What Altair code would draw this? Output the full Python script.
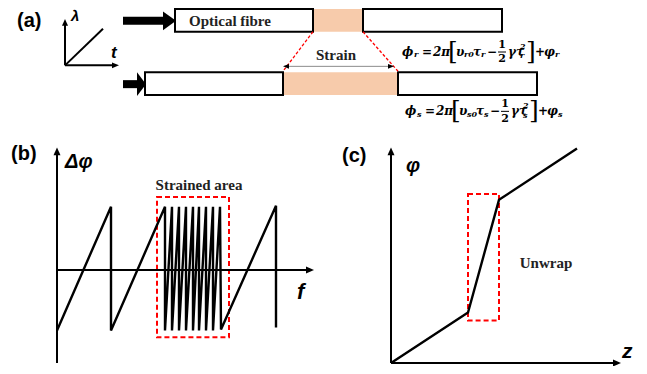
import altair as alt
import pandas as pd

# ---------------- data (picture pixel coordinates) ----------------
# fibre boxes: x1, x2, y1, y2
fibre_x1 = [175, 363, 145, 398]
fibre_x2 = [313, 502, 283, 537]
fibre_y1 = [5, 5, 69, 69]
fibre_y2 = [28, 28, 92, 92]

strain_x1 = [313, 283]
strain_x2 = [363, 398]
strain_y1 = [5, 69]
strain_y2 = [28, 92]

# red dashed boxes
red_x1 = [157, 468]
red_x2 = [229, 499]
red_y1 = [195, 192]
red_y2 = [337, 320]

# red dashed connector lines
conn_x1 = [313, 363]
conn_y1 = [28, 28]
conn_x2 = [283, 398]
conn_y2 = [68, 68]

# black axis lines
ax_x1 = [65, 65, 65, 57, 57, 391, 391]
ax_y1 = [62, 62, 62, 363, 269, 363, 363]
ax_x2 = [65, 113, 103, 57, 307, 391, 614]
ax_y2 = [21, 62, 25, 151, 269, 151, 363]

# thick input arrows (shafts)
shaft_x1 = [123, 123]
shaft_x2 = [165, 139]
shaft_y = [17, 81]

# strain double arrow
strain_arrow_x1 = [289]
strain_arrow_x2 = [388]
strain_arrow_y = [63]

# horizontal triangles (arrow heads): base x, tip x, centre y, half height
htri_base = [163, 137, 289, 388, 112, 306, 613]
htri_tip = [176, 146, 283, 394, 119, 314, 621]
htri_yc = [17, 81, 63, 63, 62, 269, 363]
htri_h = [9.5, 12, 2.5, 2.5, 3, 3.5, 3.5]

# vertical triangles: base y, tip y, centre x, half width
vtri_base = [22, 153, 153]
vtri_tip = [15, 145, 145]
vtri_xc = [65, 57, 391]
vtri_w = [3, 3.5, 3.5]

# (b) wrapped phase sawtooth
saw_x = [57, 111, 111, 165, 165, 172, 172, 179, 179, 186, 186, 193, 193,
         199, 199, 206, 206, 213, 213, 220, 221, 276, 276]
saw_y = [330, 205, 330, 205, 330, 205, 330, 205, 330, 205, 330, 205, 330,
         205, 330, 205, 330, 205, 330, 205, 329, 204, 327]

# (c) unwrapped phase
unw_x = [391, 468, 499, 577]
unw_y = [363, 312, 198, 146]

# texts
panel_txt = ["(a)", "(b)", "(c)"]
panel_x = [17, 11, 342]
panel_y = [17, 152, 154]

sym_txt = ["λ", "t", "Δφ", "f", "φ", "z"]
sym_x = [71, 111, 65, 297, 406, 622]
sym_y = [12, 50, 160, 291, 164, 352]
sym_size = [15, 17, 20, 22, 20, 21]

lab_txt = ["Optical fibre", "Strain", "Strained area", "Unwrap"]
lab_x = [230, 336, 199, 546]
lab_y = [17, 52, 183, 262]

# equations: tokens of phi_r (row 1) and phi_s (row 2)
eq_txt = ["ϕ", "r", "=", "2π", "υ", "r0", "τ", "r", "−", "γτ", "2", "r", "+", "φ", "r",
          "ϕ", "s", "=", "2π", "υ", "s0", "τ", "s", "−", "γτ", "2", "s", "+", "φ", "s"]
eq_x = [402, 414, 422, 433, 456, 464, 473, 481, 487, 508, 520, 520, 535, 544, 555,
        405, 417, 425, 436, 459, 467, 476, 484, 490, 511, 523, 523, 538, 547, 558]
eq_y = [48, 52, 48, 48, 48, 52, 48, 52, 48, 48, 43, 53, 48, 48, 52,
        108, 112, 108, 108, 108, 112, 108, 112, 108, 108, 103, 113, 108, 108, 112]
eq_size = [12, 8, 12, 12, 12, 8, 12, 8, 12, 12, 8, 8, 12, 12, 8,
           12, 8, 12, 12, 12, 8, 12, 8, 12, 12, 8, 8, 12, 12, 8]

br_txt = ["[", "]", "[", "]"]
br_x = [448, 526, 451, 529]
br_y = [47, 47, 107, 107]

frac_txt = ["1", "2", "1", "2"]
frac_tx = [502, 502, 505, 505]
frac_ty = [41, 56, 101, 116]

frac_x1 = [498, 501]
frac_x2 = [506, 509]
frac_y = [48.5, 108.5]

# ---------------- scales ----------------
W, H = 631, 358
xs = alt.Scale(domain=[8, 8 + W], nice=False, zero=False)
ys = alt.Scale(domain=[366, 4], nice=False, zero=False)


def X(f, **kw):
    return alt.X(f, type="quantitative", scale=xs, axis=None, **kw)


def Y(f, **kw):
    return alt.Y(f, type="quantitative", scale=ys, axis=None, **kw)


def rects(x1, x2, y1, y2):
    return pd.DataFrame({"x1": x1, "x2": x2, "y1": y1, "y2": y2})


peach = alt.Chart(rects(strain_x1, strain_x2, strain_y1, strain_y2)).mark_rect(
    color="#F7CBAB").encode(x=X("x1"), x2="x2", y=Y("y1"), y2="y2")

boxes = alt.Chart(rects(fibre_x1, fibre_x2, fibre_y1, fibre_y2)).mark_rect(
    fill="white", stroke="black", strokeWidth=2).encode(
    x=X("x1"), x2="x2", y=Y("y1"), y2="y2")

redboxes = alt.Chart(rects(red_x1, red_x2, red_y1, red_y2)).mark_rect(
    fillOpacity=0, stroke="#FF0000", strokeWidth=2, strokeDash=[5, 3]).encode(
    x=X("x1"), x2="x2", y=Y("y1"), y2="y2")

conn = alt.Chart(pd.DataFrame({"x1": conn_x1, "y1": conn_y1, "x2": conn_x2, "y2": conn_y2})
                 ).mark_rule(color="#FF0000", strokeWidth=1.3, strokeDash=[3, 2]).encode(
    x=X("x1"), y=Y("y1"), x2="x2", y2="y2")

axes = alt.Chart(pd.DataFrame({"x1": ax_x1, "y1": ax_y1, "x2": ax_x2, "y2": ax_y2})
                 ).mark_rule(color="black", strokeWidth=2).encode(
    x=X("x1"), y=Y("y1"), x2="x2", y2="y2")

shafts = alt.Chart(pd.DataFrame({"x1": shaft_x1, "x2": shaft_x2, "y": shaft_y})
                   ).mark_rule(color="black", strokeWidth=8).encode(
    x=X("x1"), x2="x2", y=Y("y"))

sarrow = alt.Chart(pd.DataFrame({"x1": strain_arrow_x1, "x2": strain_arrow_x2, "y": strain_arrow_y})
                   ).mark_rule(color="#8c8c8c", strokeWidth=1).encode(
    x=X("x1"), x2="x2", y=Y("y"))

hrows = []
for i, (b, t, yc, h) in enumerate(zip(htri_base, htri_tip, htri_yc, htri_h)):
    hrows.append({"id": i, "x": b, "y": yc - h, "y2": yc + h})
    hrows.append({"id": i, "x": t, "y": yc, "y2": yc})
htri = alt.Chart(pd.DataFrame(hrows)).mark_area(
    color="black", orient="vertical").encode(
    x=X("x"), y=Y("y"), y2="y2", detail="id:N")

vrows = []
for i, (b, t, xc, w) in enumerate(zip(vtri_base, vtri_tip, vtri_xc, vtri_w)):
    vrows.append({"id": i, "y": b, "x": xc - w, "x2": xc + w})
    vrows.append({"id": i, "y": t, "x": xc, "x2": xc})
vtri = alt.Chart(pd.DataFrame(vrows)).mark_area(
    color="black", orient="horizontal").encode(
    y=Y("y"), x=X("x"), x2="x2", detail="id:N")

saw = alt.Chart(pd.DataFrame({"x": saw_x, "y": saw_y, "o": range(len(saw_x))})
                ).mark_line(color="black", strokeWidth=2.4, strokeJoin="miter").encode(
    x=X("x"), y=Y("y"), order="o:Q")

unw = alt.Chart(pd.DataFrame({"x": unw_x, "y": unw_y, "o": range(len(unw_x))})
                ).mark_line(color="black", strokeWidth=2.4).encode(
    x=X("x"), y=Y("y"), order="o:Q")

panels = alt.Chart(pd.DataFrame({"t": panel_txt, "x": panel_x, "y": panel_y})).mark_text(
    font="Liberation Sans", fontWeight="bold", fontSize=20, align="left", baseline="middle",
    color="black").encode(x=X("x"), y=Y("y"), text="t")

syms = alt.Chart(pd.DataFrame({"t": sym_txt, "x": sym_x, "y": sym_y, "s": sym_size})).mark_text(
    font="Liberation Sans", fontWeight="bold", fontStyle="italic", align="left",
    baseline="middle", color="black").encode(
    x=X("x"), y=Y("y"), text="t", size=alt.Size("s:Q", scale=None, legend=None))

labels = alt.Chart(pd.DataFrame({"t": lab_txt, "x": lab_x, "y": lab_y})).mark_text(
    font="Liberation Serif", fontWeight="bold", fontSize=15, align="center",
    baseline="middle", color="#222222").encode(x=X("x"), y=Y("y"), text="t")

eqs = alt.Chart(pd.DataFrame({"t": eq_txt, "x": eq_x, "y": eq_y, "s": eq_size})).mark_text(
    font="DejaVu Serif", fontWeight="bold", fontStyle="italic", align="left",
    baseline="middle", color="black").encode(
    x=X("x"), y=Y("y"), text="t", size=alt.Size("s:Q", scale=None, legend=None))

brs = alt.Chart(pd.DataFrame({"t": br_txt, "x": br_x, "y": br_y})).mark_text(
    font="DejaVu Serif", fontSize=25, align="left", baseline="middle",
    color="black").encode(x=X("x"), y=Y("y"), text="t")

fractxt = alt.Chart(pd.DataFrame({"t": frac_txt, "x": frac_tx, "y": frac_ty})).mark_text(
    font="DejaVu Serif", fontWeight="bold", fontSize=11, align="center",
    baseline="middle", color="black").encode(x=X("x"), y=Y("y"), text="t")

fracs = alt.Chart(pd.DataFrame({"x1": frac_x1, "x2": frac_x2, "y": frac_y})).mark_rule(
    color="black", strokeWidth=1).encode(x=X("x1"), x2="x2", y=Y("y"))

chart = alt.layer(
    peach, boxes, conn, redboxes, axes, shafts, sarrow, htri, vtri, saw, unw,
    panels, syms, labels, eqs, brs, fractxt, fracs
).properties(
    width=W, height=H, padding=0, autosize="none", background="white"
).configure_view(stroke=None)

chart.save("out.html", embed_options={"renderer": "svg", "actions": False})
